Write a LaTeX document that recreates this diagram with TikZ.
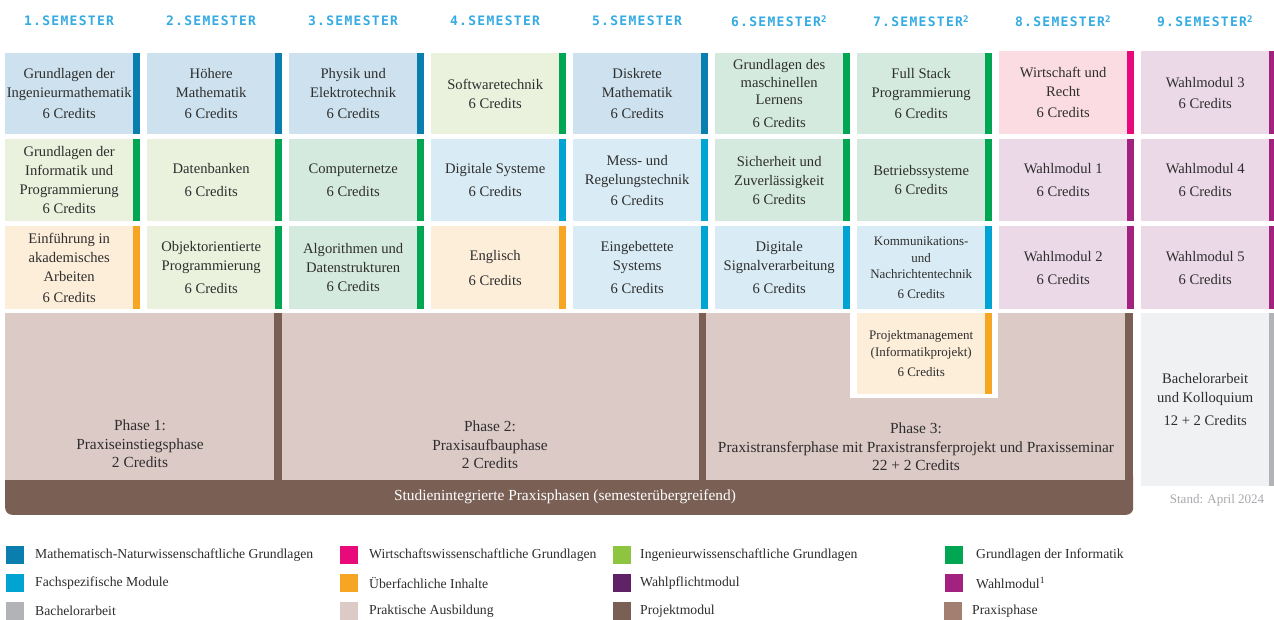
\documentclass[tikz,border=0pt]{standalone}
\usepackage{fontspec}
\setmainfont{Liberation Serif}
\newfontfamily\headfont[LetterSpace=10]{DejaVu Sans Mono}
\definecolor{mathbar}{HTML}{0A7FAF}
\definecolor{mathfill}{HTML}{CDE2EE}
\definecolor{fachbar}{HTML}{00A3D1}
\definecolor{fachfill}{HTML}{D9ECF5}
\definecolor{infobar}{HTML}{00A651}
\definecolor{infofillA}{HTML}{EAF1DC}
\definecolor{infofillB}{HTML}{D5EADE}
\definecolor{orbar}{HTML}{F6A623}
\definecolor{orfill}{HTML}{FDEEDA}
\definecolor{wibar}{HTML}{E8097A}
\definecolor{wifill}{HTML}{FBDCE3}
\definecolor{wahlbar}{HTML}{A3217F}
\definecolor{wahlfill}{HTML}{EBD9E8}
\definecolor{babar}{HTML}{B1B3B6}
\definecolor{bafill}{HTML}{F0F1F3}
\definecolor{praxfill}{HTML}{DCCAC6}
\definecolor{projbrown}{HTML}{7A5F55}
\definecolor{praxbrown}{HTML}{A37F72}
\definecolor{ingbar}{HTML}{8DC540}
\definecolor{wpbar}{HTML}{5F2266}
\definecolor{txt}{HTML}{2E2E2E}
\definecolor{headblue}{HTML}{35ABE3}
\definecolor{standgray}{HTML}{A7A9AC}
\newcommand\modfont{\fontsize{14.6}{19}\selectfont}
\newcommand\phfont{\fontsize{15.4}{18.5}\selectfont}
\newcommand\smallmod{\fontsize{13}{16.5}\selectfont}
\newcommand\tightmod{\fontsize{14.6}{17.5}\selectfont}
\newcommand\legfont{\fontsize{13.7}{15}\selectfont}
\newcommand\hdfont{\headfont\bfseries\fontsize{13}{15}\selectfont}
\newcommand\mkmod[8][]{%
  \node[modbox, fill=#6, minimum height=#5, #1] (#2) at (#3,#4) {#8};
  \fill[#7] (#2.north east) rectangle ([xshift=7pt]#2.south east);}
\begin{document}
\begin{tikzpicture}[x=1pt,y=-1pt,
  modbox/.style={rectangle, anchor=north west, minimum width=128pt, inner sep=1pt, align=center, text=txt, font=\modfont},
  head/.style={text=headblue, font=\hdfont, inner sep=0pt},
  phasetxt/.style={align=center, text=txt, font=\phfont, inner sep=0pt},
  legsq/.style={rectangle, anchor=north west, minimum width=18pt, minimum height=18pt, inner sep=0pt},
  legtxt/.style={anchor=west, text=txt, font=\legfont, inner sep=0pt}]
\useasboundingbox (0,0) rectangle (1274,619);
\fill[white] (0,0) rectangle (1274,619);

% headers
\node[head] (h1) at (69,21) {1.SEMESTER};
\node[head] (h2) at (211,21) {2.SEMESTER};
\node[head] (h3) at (353,21) {3.SEMESTER};
\node[head] (h4) at (495,21) {4.SEMESTER};
\node[head] (h5) at (637,21) {5.SEMESTER};
\node[head] (h6) at (779,21) {6.SEMESTER\textsuperscript{2}};
\node[head] (h7) at (921,21) {7.SEMESTER\textsuperscript{2}};
\node[head] (h8) at (1063,21) {8.SEMESTER\textsuperscript{2}};
\node[head] (h9) at (1205,21) {9.SEMESTER\textsuperscript{2}};

% row 1
\mkmod{m11}{5}{53}{81pt}{mathfill}{mathbar}{Grundlagen der\\Ingenieurmathematik\\[2pt]6 Credits}
\mkmod{m21}{147}{53}{81pt}{mathfill}{mathbar}{Höhere\\Mathematik\\[2pt]6 Credits}
\mkmod{m31}{289}{53}{81pt}{mathfill}{mathbar}{Physik und\\Elektrotechnik\\[2pt]6 Credits}
\mkmod{m41}{431}{53}{81pt}{infofillA}{infobar}{Softwaretechnik\\6 Credits}
\mkmod{m51}{573}{53}{81pt}{mathfill}{mathbar}{Diskrete\\Mathematik\\[2pt]6 Credits}
\mkmod[font=\tightmod]{m61}{715}{53}{81pt}{infofillB}{infobar}{Grundlagen des\\maschinellen\\Lernens\\[5pt]6 Credits}
\mkmod{m71}{857}{53}{81pt}{infofillB}{infobar}{Full Stack\\Programmierung\\[2pt]6 Credits}
\mkmod{m81}{999}{51}{83pt}{wifill}{wibar}{Wirtschaft und\\Recht\\[2pt]6 Credits}
\mkmod{m91}{1141}{51}{83pt}{wahlfill}{wahlbar}{Wahlmodul 3\\[2pt]6 Credits}

% row 2
\mkmod{m12}{5}{139}{82pt}{infofillA}{infobar}{Grundlagen der\\Informatik und\\Programmierung\\6 Credits}
\mkmod{m22}{147}{139}{82pt}{infofillA}{infobar}{Datenbanken\\[4pt]6 Credits}
\mkmod{m32}{289}{139}{82pt}{infofillB}{infobar}{Computernetze\\[4pt]6 Credits}
\mkmod{m42}{431}{139}{82pt}{fachfill}{fachbar}{Digitale Systeme\\[4pt]6 Credits}
\mkmod{m52}{573}{139}{82pt}{fachfill}{fachbar}{Mess- und\\Regelungstechnik\\[2pt]6 Credits}
\mkmod{m62}{715}{139}{82pt}{infofillB}{infobar}{Sicherheit und\\Zuverlässigkeit\\6 Credits}
\mkmod{m72}{857}{139}{82pt}{infofillB}{infobar}{Betriebssysteme\\6 Credits}
\mkmod{m82}{999}{139}{82pt}{wahlfill}{wahlbar}{Wahlmodul 1\\[4pt]6 Credits}
\mkmod{m92}{1141}{139}{82pt}{wahlfill}{wahlbar}{Wahlmodul 4\\[4pt]6 Credits}

% row 3
\mkmod{m13}{5}{226}{83pt}{orfill}{orbar}{Einführung in\\akademisches\\Arbeiten\\[2pt]6 Credits}
\mkmod{m23}{147}{226}{83pt}{infofillA}{infobar}{Objektorientierte\\Programmierung\\[4pt]6 Credits}
\mkmod{m33}{289}{226}{83pt}{infofillB}{infobar}{Algorithmen und\\Datenstrukturen\\6 Credits}
\mkmod{m43}{431}{226}{83pt}{orfill}{orbar}{Englisch\\[6pt]6 Credits}
\mkmod{m53}{573}{226}{83pt}{fachfill}{fachbar}{Eingebettete\\Systems\\[4pt]6 Credits}
\mkmod{m63}{715}{226}{83pt}{fachfill}{fachbar}{Digitale\\Signalverarbeitung\\[4pt]6 Credits}
\mkmod[font=\smallmod]{m73}{857}{226}{83pt}{fachfill}{fachbar}{Kommunikations-\\und\\Nachrichtentechnik\\[3pt]6 Credits}
\mkmod{m83}{999}{226}{83pt}{wahlfill}{wahlbar}{Wahlmodul 2\\[4pt]6 Credits}
\mkmod{m93}{1141}{226}{83pt}{wahlfill}{wahlbar}{Wahlmodul 5\\[4pt]6 Credits}

% practice phases
\node[fill=projbrown, rounded corners=7pt, minimum width=1128pt, minimum height=45pt, inner sep=0pt, anchor=south west] (sip) at (5,515) {};
\node[fill=praxfill, minimum width=269pt, minimum height=167pt, inner sep=0pt, anchor=north west] (ph1) at (5,313) {};
\fill[projbrown] (ph1.north east) rectangle ([xshift=8pt]ph1.south east);
\node[fill=praxfill, minimum width=417pt, minimum height=167pt, inner sep=0pt, anchor=north west] (ph2) at (282,313) {};
\fill[projbrown] (ph2.north east) rectangle ([xshift=7pt]ph2.south east);
\node[fill=praxfill, minimum width=419pt, minimum height=167pt, inner sep=0pt, anchor=north west] (ph3) at (706,313) {};
\fill[projbrown] (ph3.north east) rectangle ([xshift=8pt]ph3.south east);

\node[phasetxt] (p1t) at (140,444) {Phase 1:\\Praxiseinstiegsphase\\2 Credits};
\node[phasetxt] (p2t) at (490,445) {Phase 2:\\Praxisaufbauphase\\2 Credits};
\node[phasetxt] (p3t) at (916,447) {Phase 3:\\Praxistransferphase mit Praxistransferprojekt und Praxisseminar\\22 + 2 Credits};
\node[text=white, font=\phfont, inner sep=0pt] (sipt) at (565,497) {Studienintegrierte Praxisphasen (semesterübergreifend)};

% Projektmanagement
\fill[white] (850,309) rectangle (998,398);
\mkmod[font=\smallmod]{pm}{857}{313}{81pt}{orfill}{orbar}{Projektmanagement\\(Informatikprojekt)\\[4pt]6 Credits}

% Bachelorarbeit
\mkmod{ba}{1141}{313}{173pt}{bafill}{babar}{Bachelorarbeit\\und Kolloquium\\[4pt]12 + 2 Credits}
\node[text=standgray, font=\fontsize{13}{15}\selectfont, inner sep=0pt] (stand) at (1217,500) {Stand: April 2024};

% legend
\node[legsq, fill=mathbar] (l1) at (6,546) {};
\node[legtxt] (l1t) at (35,555) {Mathematisch-Naturwissenschaftliche Grundlagen};
\node[legsq, fill=fachbar] (l2) at (6,574) {};
\node[legtxt] (l2t) at (35,583) {Fachspezifische Module};
\node[legsq, fill=babar] (l3) at (6,602) {};
\node[legtxt] (l3t) at (35,611) {Bachelorarbeit};
\node[legsq, fill=wibar] (l4) at (340,546) {};
\node[legtxt] (l4t) at (369,555) {Wirtschaftswissenschaftliche Grundlagen};
\node[legsq, fill=orbar] (l5) at (340,574) {};
\node[legtxt] (l5t) at (369,583) {Überfachliche Inhalte};
\node[legsq, fill=praxfill] (l6) at (340,602) {};
\node[legtxt] (l6t) at (369,611) {Praktische Ausbildung};
\node[legsq, fill=ingbar] (l7) at (613,546) {};
\node[legtxt] (l7t) at (640,555) {Ingenieurwissenschaftliche Grundlagen};
\node[legsq, fill=wpbar] (l8) at (613,574) {};
\node[legtxt] (l8t) at (640,583) {Wahlpflichtmodul};
\node[legsq, fill=projbrown] (l9) at (613,602) {};
\node[legtxt] (l9t) at (640,611) {Projektmodul};
\node[legsq, fill=infobar] (l10) at (945,546) {};
\node[legtxt] (l10t) at (976,555) {Grundlagen der Informatik};
\node[legsq, fill=wahlbar] (l11) at (945,574) {};
\node[legtxt] (l11t) at (976,583) {Wahlmodul\textsuperscript{1}};
\node[legsq, fill=praxbrown] (l12) at (944,602) {};
\node[legtxt] (l12t) at (972,611) {Praxisphase};
\end{tikzpicture}
\end{document}
